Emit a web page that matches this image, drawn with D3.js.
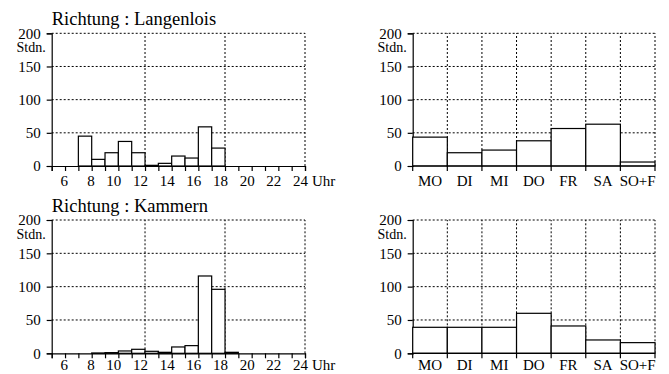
<!DOCTYPE html>
<html><head><meta charset="utf-8">
<script src="https://cdn.jsdelivr.net/npm/d3@7"></script>
<style>
body{margin:0;background:#fff;}
svg, svg text{font-family:"Liberation Serif","Times New Roman",serif !important;fill:#000;}
</style></head>
<body>
<svg id="c" width="669" height="374"></svg>
<script>
const hourStarts = [5,6,7,8,9,10,11,12,13,14,15,16,17,18,19,20,21,22,23];
const langenloisHours = [0,0,45,10,20,37,20,1,4,15,12,59,27,0,0,0,0,0,0];
const kammernHours    = [0,0,0,0.5,1,3.5,6,3,1.5,9.5,11.5,116,96,1.5,0,0,0,0,0];
const hourTickLabels = [6,8,10,12,14,16,18,20,22,24];
const hourGrid = [12,18,24];
const days = ["MO","DI","MI","DO","FR","SA","SO+F"];
const langenloisDays = [43.5,20,24,38,56.5,63,6];
const kammernDays    = [39,39,39,60,41,20,16];
const yTicks = [0,50,100,150,200];
const titles = ["Richtung : Langenlois","Richtung : Kammern"];

const svg = d3.select("#c");
const rows = [{top:33.3, bottom:166, lab:20, hours:langenloisHours, days:langenloisDays, title:titles[0]},
              {top:220, bottom:353.3, lab:17, hours:kammernHours, days:kammernDays, title:titles[1]}];
const leftX = [51.7, 305];
const rightX = [412.7, 655];
const dash = "2,2";

function yAxis(g, y, x0, x1) {
  g.selectAll("line.hg").data(yTicks.filter(d=>d>0)).join("line")
    .attr("x1",x0).attr("x2",x1).attr("y1",d=>y(d)).attr("y2",d=>y(d))
    .attr("stroke","#000").attr("stroke-width",1).attr("stroke-dasharray",dash);
  const ax = g.append("g").attr("transform",`translate(${x0},0)`)
    .call(d3.axisLeft(y).tickValues(yTicks).tickSize(5).tickPadding(6).tickFormat(d3.format("d")));
  ax.attr("font-family",null).attr("font-size",null);
  ax.select(".domain").attr("stroke","#000").attr("stroke-width",1.2);
  ax.selectAll(".tick line").attr("stroke","#000").attr("stroke-width",1.2);
  ax.selectAll("text").attr("font-size",15).attr("fill","#000");
  g.append("text").attr("x",x0-6).attr("y",y(200)+19).attr("text-anchor","end")
    .attr("font-size",14).text("Stdn.");
}

rows.forEach(r => {
  const y = d3.scaleLinear().domain([0,200]).range([r.bottom, r.top]);
  // left: hours histogram
  const x = d3.scaleLinear().domain([5,24]).range(leftX);
  const g = svg.append("g");
  g.selectAll("line.vg").data(hourGrid).join("line")
    .attr("x1",d=>x(d)).attr("x2",d=>x(d)).attr("y1",y(0)).attr("y2",y(200))
    .attr("stroke","#000").attr("stroke-width",1).attr("stroke-dasharray",dash);
  yAxis(g, y, leftX[0], leftX[1]);
  g.selectAll("rect.bar").data(hourStarts.map((h,i)=>({h,v:r.hours[i]})).filter(d=>d.v>0)).join("rect")
    .attr("x",d=>x(d.h)).attr("width",d=>x(d.h+1)-x(d.h))
    .attr("y",d=>y(d.v)).attr("height",d=>y(0)-y(d.v))
    .attr("fill","#fff").attr("stroke","#000").attr("stroke-width",1.2);
  const xa = g.append("g").attr("transform",`translate(0,${y(0)})`)
    .call(d3.axisBottom(x).tickValues(d3.range(5,25)).tickSize(5).tickFormat(""));
  xa.select(".domain").attr("stroke","#000").attr("stroke-width",1.2);
  xa.selectAll(".tick line").attr("stroke","#000").attr("stroke-width",1.2);
  xa.selectAll("text.hl").data(hourTickLabels).join("text")
    .attr("x",d=>x(d)+3).attr("y",r.lab).attr("text-anchor","end")
    .attr("font-size",15).text(d=>d);
  g.append("text").attr("x",leftX[1]+7).attr("y",y(0)+r.lab).attr("font-size",15).text("Uhr");
  g.append("text").attr("x",leftX[0]).attr("y",r.top-8).attr("font-size",18.5).text(r.title);

  // right: weekday chart
  const xb = d3.scaleBand().domain(days).range(rightX).padding(0);
  const g2 = svg.append("g");
  g2.selectAll("line.vg").data(days).join("line")
    .attr("x1",d=>xb(d)+xb.bandwidth()).attr("x2",d=>xb(d)+xb.bandwidth())
    .attr("y1",y(0)).attr("y2",y(200))
    .attr("stroke","#000").attr("stroke-width",1).attr("stroke-dasharray",dash);
  yAxis(g2, y, rightX[0], rightX[1]);
  g2.selectAll("rect.bar").data(days.map((d,i)=>({d,v:r.days[i]}))).join("rect")
    .attr("x",d=>xb(d.d)).attr("width",xb.bandwidth())
    .attr("y",d=>y(d.v)).attr("height",d=>y(0)-y(d.v))
    .attr("fill","#fff").attr("stroke","#000").attr("stroke-width",1.2);
  const xa2 = g2.append("g").attr("transform",`translate(0,${y(0)})`);
  xa2.append("line").attr("x1",rightX[0]).attr("x2",rightX[1]).attr("stroke","#000").attr("stroke-width",1.2);
  xa2.selectAll("line.tk").data(days).join("line")
    .attr("x1",d=>xb(d)+xb.bandwidth()).attr("x2",d=>xb(d)+xb.bandwidth()).attr("y1",0).attr("y2",5)
    .attr("stroke","#000").attr("stroke-width",1.2);
  xa2.append("line").attr("x1",rightX[0]).attr("x2",rightX[0]).attr("y1",0).attr("y2",5)
    .attr("stroke","#000").attr("stroke-width",1.2);
  xa2.selectAll("text").data(days).join("text")
    .attr("x",d=>xb(d)+xb.bandwidth()/2).attr("y",r.lab).attr("text-anchor","middle")
    .attr("font-size",15).text(d=>d);
});
</script>
</body></html>
